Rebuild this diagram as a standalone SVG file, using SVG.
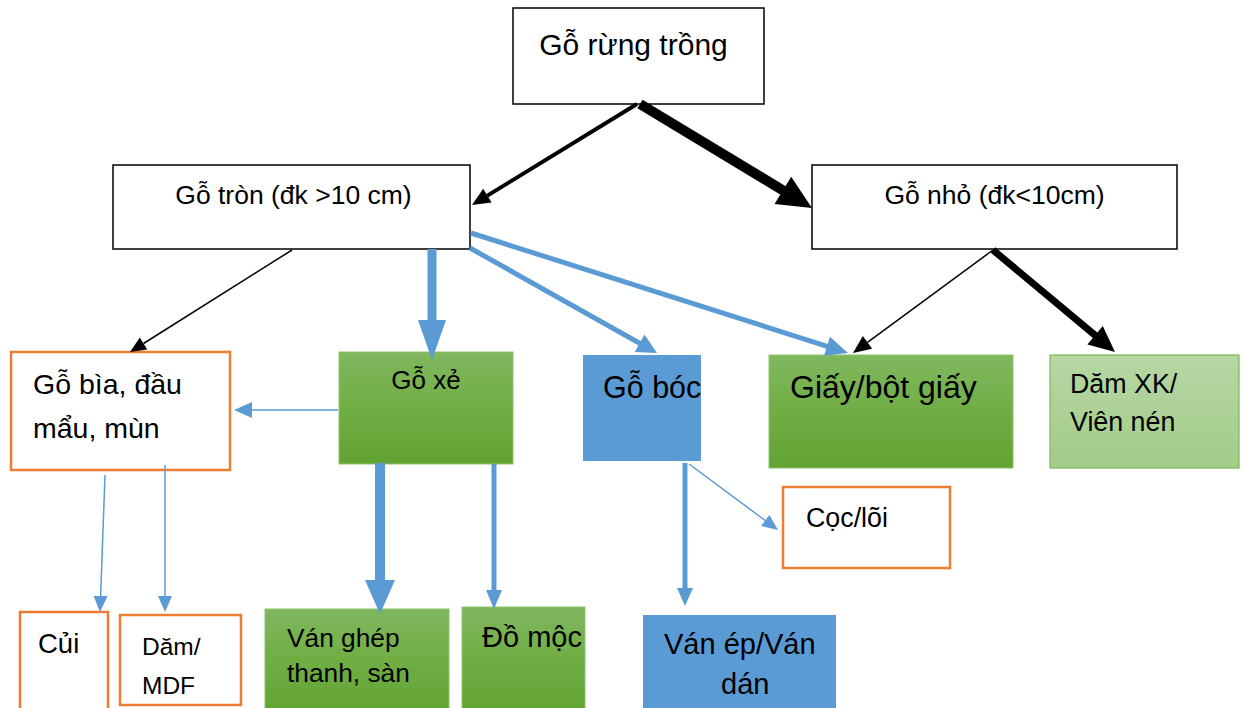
<svg xmlns="http://www.w3.org/2000/svg" width="1245" height="708" viewBox="0 0 1245 708">
<defs>
<linearGradient id="gGreen" x1="0" y1="0" x2="0" y2="1">
<stop offset="0" stop-color="#80B75F"/>
<stop offset="0.5" stop-color="#70AE44"/>
<stop offset="1" stop-color="#62A334"/>
</linearGradient>
<linearGradient id="gLight" x1="0" y1="0" x2="0" y2="1">
<stop offset="0" stop-color="#B6D7A4"/>
<stop offset="1" stop-color="#A3CB89"/>
</linearGradient>
</defs>
<style>
text{font-family:"Liberation Sans",Arial,sans-serif;fill:#000}
.bk{fill:#fff;stroke:#000;stroke-width:1.5}
.or{fill:#fff;stroke:#ED7D31;stroke-width:2.5}
.gr{fill:url(#gGreen);stroke:#8CC36C;stroke-width:1}
.lg{fill:url(#gLight);stroke:#7DB55A;stroke-width:1.2}
.bl{fill:#5B9BD5;stroke:none}
.lb{stroke:#000;fill:none}
.lbl{stroke:#5B9BD5;fill:none}
.hb{fill:#000}
.hbl{fill:#5B9BD5}
</style>
<rect width="1245" height="708" fill="#fff"/>
<g id="nodes">
<g id="n-rung"><rect class="bk" x="513" y="8" width="251" height="96"/><text x="633.5" y="55" font-size="30" text-anchor="middle">Gỗ rừng trồng</text></g>
<g id="n-tron"><rect class="bk" x="113" y="165" width="357" height="84"/><text x="293.5" y="204" font-size="26.5" text-anchor="middle">Gỗ tròn (đk &gt;10 cm)</text></g>
<g id="n-nho"><rect class="bk" x="812" y="165" width="365" height="84"/><text x="994.5" y="204" font-size="26.5" text-anchor="middle">Gỗ nhỏ (đk&lt;10cm)</text></g>
<g id="n-bia"><rect class="or" x="11" y="352" width="219" height="118"/><text x="33" y="394" font-size="28.5">Gỗ bìa, đầu</text><text x="33" y="438" font-size="28.5">mẩu, mùn</text></g>
<g id="n-xe"><rect class="gr" x="339" y="352" width="174" height="112"/><text x="426" y="389" font-size="26" text-anchor="middle">Gỗ xẻ</text></g>
<g id="n-boc"><rect class="bl" x="583" y="355" width="118" height="106"/><text x="603" y="398" font-size="30.5">Gỗ bóc</text></g>
<g id="n-giay"><rect class="gr" x="769" y="355" width="244" height="113"/><text x="790" y="398" font-size="32">Giấy/bột giấy</text></g>
<g id="n-dam"><rect class="lg" x="1050" y="355" width="189" height="113"/><text x="1070" y="393" font-size="26.8">Dăm XK/</text><text x="1070" y="431" font-size="26.8">Viên nén</text></g>
<g id="n-coc"><rect class="or" x="783" y="487" width="167" height="81"/><text x="806" y="527" font-size="26.8">Cọc/lõi</text></g>
<g id="n-cui"><rect class="or" x="20" y="612" width="88" height="100"/><text x="38" y="653" font-size="27.5">Củi</text></g>
<g id="n-mdf"><rect class="or" x="120" y="615" width="121" height="90"/><text x="142" y="655" font-size="24.5">Dăm/</text><text x="142" y="694" font-size="24.5">MDF</text></g>
<g id="n-vanghep"><rect class="gr" x="265" y="609" width="184" height="104"/><text x="287" y="647" font-size="26.3">Ván ghép</text><text x="287" y="682" font-size="26.3">thanh, sàn</text></g>
<g id="n-domoc"><rect class="gr" x="462" y="607" width="123" height="106"/><text x="482" y="647" font-size="29">Đồ mộc</text></g>
<g id="n-vanep"><rect class="bl" x="643" y="615" width="193" height="98"/><text x="664" y="654" font-size="29">Ván ép/Ván</text><text x="721" y="694" font-size="29">dán</text></g>
</g>
<g id="connectors">
<line class="lb" x1="637" y1="104" x2="487.4" y2="195.6" stroke-width="4"/>
<polygon class="hb" points="472,205 491.6,202.4 483.2,188.8"/>
<line class="lb" x1="640" y1="104" x2="784" y2="191" stroke-width="10"/>
<polygon class="hb" points="812,208 774.6,204.1 791.2,176.7"/>
<line class="lb" x1="292" y1="250" x2="143.5" y2="343.5" stroke-width="1.5"/>
<polygon class="hb" points="130,352 147.2,349.4 139.8,337.6"/>
<line class="lbl" x1="432" y1="249" x2="432" y2="322" stroke-width="9"/>
<polygon class="hbl" points="418,320 446,320 432,360"/>
<line class="lbl" x1="470" y1="248" x2="640.5" y2="343.7" stroke-width="5"/>
<polygon class="hbl" points="657,353 634.7,351.9 644.5,334.5"/>
<line class="lbl" x1="471" y1="233" x2="828" y2="346.6" stroke-width="5"/>
<polygon class="hbl" points="848,353 824,355.8 830,336.8"/>
<line class="lb" x1="993" y1="250" x2="867.5" y2="342.3" stroke-width="1.5"/>
<polygon class="hb" points="853,353 872.2,348.7 862.8,335.9"/>
<line class="lb" x1="993" y1="250" x2="1096" y2="336" stroke-width="7"/>
<polygon class="hb" points="1115,352 1087.4,344.5 1102.8,326.1"/>
<line class="lbl" x1="338" y1="410" x2="252" y2="410" stroke-width="1.5"/>
<polygon class="hbl" points="234,410 252,402 252,418"/>
<line class="lbl" x1="105" y1="475" x2="100.6" y2="597" stroke-width="1.5"/>
<polygon class="hbl" points="100,612 93.6,596 107.6,596"/>
<line class="lbl" x1="165" y1="465" x2="165" y2="597" stroke-width="1.5"/>
<polygon class="hbl" points="165,612 158,596 172,596"/>
<line class="lbl" x1="380" y1="463" x2="380" y2="582" stroke-width="10"/>
<polygon class="hbl" points="365,580 395,580 380,614"/>
<line class="lbl" x1="494" y1="464" x2="494" y2="592" stroke-width="5"/>
<polygon class="hbl" points="486,590 502,590 494,609"/>
<line class="lbl" x1="685" y1="463" x2="685" y2="590" stroke-width="5"/>
<polygon class="hbl" points="677,588 693,588 685,606"/>
<line class="lbl" x1="689" y1="464" x2="765.2" y2="520.5" stroke-width="1.5"/>
<polygon class="hbl" points="778,530 761,526.1 769.4,514.9"/>
</g>
</svg>
